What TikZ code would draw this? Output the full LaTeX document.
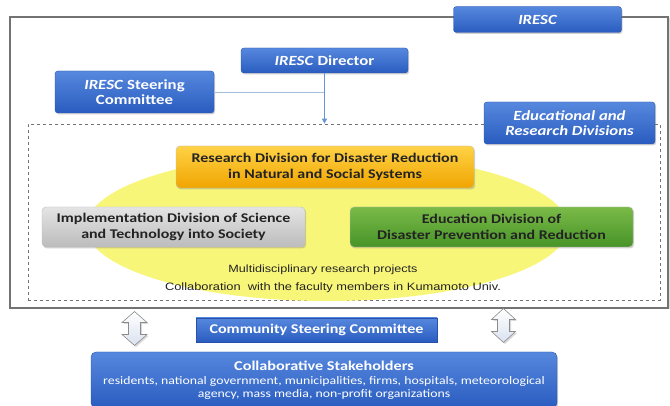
\documentclass[tikz,border=0pt]{standalone}
\usepackage{fontspec}
\setmainfont{Carlito}[FakeStretch=1.2]
\newfontfamily\arialf{Liberation Sans}[FakeStretch=1.2]
\usetikzlibrary{shadows,arrows.meta,shapes.geometric}
\definecolor{bluetop}{RGB}{86,136,222}
\definecolor{bluebot}{RGB}{42,92,192}
\definecolor{blueline}{RGB}{40,80,170}
\definecolor{orgtop}{RGB}{255,210,70}
\definecolor{orgbot}{RGB}{240,165,0}
\definecolor{graytop}{RGB}{228,228,228}
\definecolor{graybot}{RGB}{188,188,188}
\definecolor{grntop}{RGB}{122,186,72}
\definecolor{grnbot}{RGB}{72,148,40}
\definecolor{ellfill}{RGB}{248,246,120}
\definecolor{arrfill}{RGB}{218,226,240}
\definecolor{conn}{RGB}{165,190,220}
\definecolor{connarr}{RGB}{100,150,210}
\definecolor{darktext}{RGB}{35,35,35}
\begin{document}
\begin{tikzpicture}[x=1pt,y=-1pt,
  shad/.style={drop shadow={opacity=0.35,shadow xshift=1.2pt,shadow yshift=-1.5pt}},
  bluebox/.style={shad,rounded corners=3pt,draw=blueline,line width=0.4pt,
    top color=bluetop,bottom color=bluebot,text=white,align=center,inner sep=0pt,
    font=\bfseries\fontsize{14}{15}\selectfont},
  divbox/.style={shad,rounded corners=4pt,draw=black!25,line width=0.4pt,align=center,inner sep=0pt,
    text=darktext,font=\bfseries\fontsize{13.3}{15.5}\selectfont},
  plain/.style={inner sep=0pt,align=center},
  dblarr/.style={draw=black!45,line width=0.6pt,top color=white,bottom color=arrfill,
    drop shadow={opacity=0.3,shadow xshift=1.5pt,shadow yshift=-1.5pt}}
]
\useasboundingbox (0,0) rectangle (670,406);
% outer frame
\node[draw=black!55,line width=1.1pt,minimum width=658pt,minimum height=291pt,inner sep=0pt,
  drop shadow={opacity=0.25,shadow xshift=1.5pt,shadow yshift=-1.5pt},fill=white] (outer) at (339,162.5) {};
\node[bluebox,minimum width=168pt,minimum height=26pt] (iresc) at (537.5,19.5) {\itshape IRESC};
\node[bluebox,minimum width=167pt,minimum height=25pt] (director) at (324.5,60.5) {\textit{IRESC} Director};
\node[bluebox,minimum width=159pt,minimum height=42pt] (steering) at (134.5,92) {\textit{IRESC} Steering\\Committee};
% dashed division frame
\node[draw=black!55,dashed,line width=0.7pt,minimum width=632pt,minimum height=176pt,inner sep=0pt] (divs) at (344,212) {};
\node[bluebox,minimum width=171pt,minimum height=42pt] (edures) at (569.5,123) {\itshape Educational and\\\itshape Research Divisions};
% connectors
\coordinate (joint) at (director.south |- steering.east);
\draw[conn,line width=0.8pt] (steering.east) -- (joint);
\draw[connarr,line width=0.8pt,-{Triangle[length=5pt,width=5pt]}] (director.south) -- (director.south |- divs.north);
% ellipse
\node[ellipse,fill=ellfill,minimum width=482pt,minimum height=148pt,inner sep=0pt] (ell) at (327,227) {};
\node[divbox,top color=orgtop,bottom color=orgbot,minimum width=298pt,minimum height=42pt] (research) at (325,167)
  {Research Division for Disaster Reduction\\in Natural and Social Systems};
\node[divbox,top color=graytop,bottom color=graybot,minimum width=263pt,minimum height=40pt] (impl) at (173.5,227)
  {Implementation Division of Science\\and Technology into Society};
\node[divbox,top color=grntop,bottom color=grnbot,minimum width=283pt,minimum height=40pt] (edudiv) at (491.5,227)
  {Education Division of\\Disaster Prevention and Reduction};
\node[plain,font=\arialf\fontsize{10.5}{12}\selectfont,text=darktext] (multi) at (323,270) {Multidisciplinary research projects};
\node[plain,font=\arialf\fontsize{10.7}{12}\selectfont,text=darktext] (collab) at (333,288) {Collaboration\ \ with the faculty members in Kumamoto Univ.};
% block double arrows
\begin{scope}[shift={(134.5,328.5)}]
\draw[dblarr] (0,-17) -- (12.5,-6) -- (6,-6) -- (6,6) -- (12.5,6) -- (0,17) -- (-12.5,6) -- (-6,6) -- (-6,-6) -- (-12.5,-6) -- cycle;
\end{scope}
\begin{scope}[shift={(503.5,325.5)}]
\draw[dblarr] (0,-17) -- (12,-6) -- (6,-6) -- (6,6) -- (12,6) -- (0,17) -- (-12,6) -- (-6,6) -- (-6,-6) -- (-12,-6) -- cycle;
\end{scope}
\node[bluebox,rounded corners=0pt,minimum width=241pt,minimum height=24pt,font=\bfseries\fontsize{13.4}{15}\selectfont] (community) at (316.5,330) {Community Steering Committee};
\node[bluebox,rounded corners=5pt,minimum width=466pt,minimum height=56pt,font=\fontsize{11.5}{13}\selectfont] (stake) at (324,380)
  {{\bfseries\fontsize{13.5}{15}\selectfont Collaborative Stakeholders}\\[1.5pt]
   residents, national government, municipalities, firms, hospitals, meteorological\\
   agency, mass media, non-profit organizations};
\end{tikzpicture}
\end{document}
